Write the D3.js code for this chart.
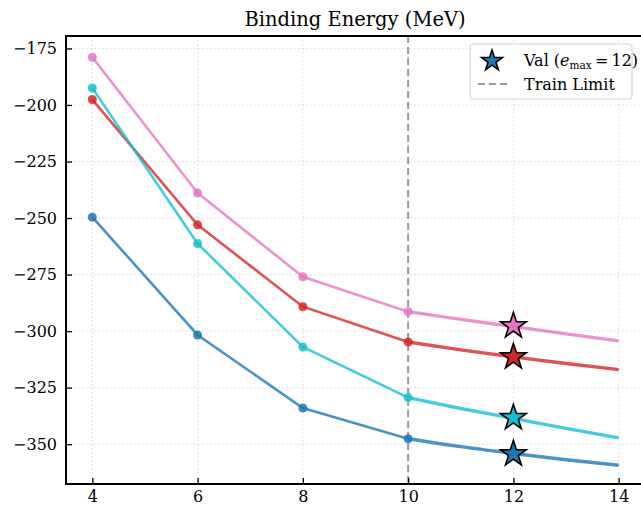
<!DOCTYPE html>
<html>
<head>
<meta charset="utf-8">
<script src="https://cdn.jsdelivr.net/npm/d3@7"></script>
<style>
  html, body { margin: 0; padding: 0; background: #fff; }
  svg { display: block; }
  text { font-family: "DejaVu Serif", serif; fill: #000; }
</style>
</head>
<body>
<svg id="chart" width="641" height="507"></svg>
<script>
// ---- Data ----
const xTicks = [4, 6, 8, 10, 12, 14];
const yTicks = [-350, -325, -300, -275, -250, -225, -200, -175];
const emaxTrain = [4, 6, 8, 10];
const emaxExtrap = [10, 11, 12, 13, 14];
const emaxVal = 12;
const trainLimit = 10;

const seriesNames = ["blue", "red", "cyan", "pink"];
const seriesColors = ["#1f77b4", "#d62728", "#17becf", "#e377c2"];

const trainBlue = [-249.6, -301.7, -334.0, -347.6];
const trainRed  = [-197.6, -253.0, -289.2, -304.8];
const trainCyan = [-192.5, -261.3, -307.0, -329.4];
const trainPink = [-178.9, -238.9, -276.0, -291.4];

const extrapBlue = [-347.6, -351.1, -354.1, -356.9, -359.3];
const extrapRed  = [-304.8, -308.3, -311.4, -314.3, -317.0];
const extrapCyan = [-329.4, -334.2, -338.6, -343.0, -347.2];
const extrapPink = [-291.4, -294.8, -298.0, -301.2, -304.3];

const valBlue = -354.3;
const valRed  = -311.4;
const valCyan = -338.3;
const valPink = -297.7;

const titleText = "Binding Energy (MeV)";
const legendLabels = ["Val (", "e", "max", "\u2009=\u200912)", "Train Limit"];

// ---- Build series ----
const trains = [trainBlue, trainRed, trainCyan, trainPink];
const extraps = [extrapBlue, extrapRed, extrapCyan, extrapPink];
const vals = [valBlue, valRed, valCyan, valPink];

// ---- Layout ----
const svg = d3.select("#chart");
const margin = { left: 66, top: 36, right: -4, bottom: 23 };
const W = 641, H = 507;
const x = d3.scaleLinear().domain([3.5, 14.5]).range([margin.left, W - margin.right]);
const y = d3.scaleLinear().domain([-367.6, -169.5]).range([H - margin.bottom, margin.top]);

const plot = svg.append("g");

svg.append("defs").append("clipPath").attr("id", "clip")
  .append("rect").attr("x", x.range()[0]).attr("y", y.range()[1])
  .attr("width", x.range()[1] - x.range()[0]).attr("height", y.range()[0] - y.range()[1]);

// grid
const grid = plot.append("g").attr("clip-path", "url(#clip)");
grid.selectAll(".gx").data(xTicks).join("line")
  .attr("x1", d => x(d)).attr("x2", d => x(d))
  .attr("y1", y.range()[1]).attr("y2", y.range()[0])
  .attr("stroke", "#d9d9d9").attr("stroke-width", 1).attr("stroke-dasharray", "1.5,2.5");
grid.selectAll(".gy").data(yTicks).join("line")
  .attr("x1", x.range()[0]).attr("x2", x.range()[1])
  .attr("y1", d => y(d)).attr("y2", d => y(d))
  .attr("stroke", "#d9d9d9").attr("stroke-width", 1).attr("stroke-dasharray", "1.5,2.5");

// train limit line
plot.append("line")
  .attr("x1", x(trainLimit)).attr("x2", x(trainLimit))
  .attr("y1", y.range()[1]).attr("y2", y.range()[0])
  .attr("stroke", "#9a9a9a").attr("stroke-width", 2).attr("stroke-dasharray", "7,4");

const data = plot.append("g").attr("clip-path", "url(#clip)");
const lineGen = d3.line().x(d => x(d[0])).y(d => y(d[1]));
const curveGen = d3.line().x(d => x(d[0])).y(d => y(d[1])).curve(d3.curveMonotoneX);

seriesNames.forEach((name, i) => {
  const col = seriesColors[i];
  const tr = emaxTrain.map((e, j) => [e, trains[i][j]]);
  const ex = emaxExtrap.map((e, j) => [e, extraps[i][j]]);
  data.append("path").attr("d", lineGen(tr)).attr("fill", "none")
    .attr("stroke", col).attr("stroke-opacity", 0.8).attr("stroke-width", 2.6);
  data.selectAll(".pt-" + name).data(tr).join("circle")
    .attr("cx", d => x(d[0])).attr("cy", d => y(d[1])).attr("r", 4.5)
    .attr("fill", col).attr("fill-opacity", 0.85);
  data.append("path").attr("d", curveGen(ex)).attr("fill", "none")
    .attr("stroke", col).attr("stroke-opacity", 0.8).attr("stroke-width", 3.4);
});

function starPath(cx, cy, R) {
  const r = R * 0.382;
  const pts = [];
  for (let k = 0; k < 10; k++) {
    const a = -Math.PI / 2 + k * Math.PI / 5;
    const rr = k % 2 === 0 ? R : r;
    pts.push([cx + rr * Math.cos(a), cy + rr * Math.sin(a)]);
  }
  return "M" + pts.map(p => p.join(",")).join("L") + "Z";
}

seriesNames.forEach((name, i) => {
  plot.append("path").attr("d", starPath(x(emaxVal), y(vals[i]), 13.5))
    .attr("fill", seriesColors[i]).attr("stroke", "#000").attr("stroke-width", 1.6)
    .attr("stroke-linejoin", "miter");
});

// axes
const xAxis = d3.axisBottom(x).tickValues(xTicks).tickSizeInner(-6).tickSizeOuter(0).tickPadding(7)
  .tickFormat(d3.format("d"));
const yAxis = d3.axisLeft(y).tickValues(yTicks).tickSizeInner(-6).tickSizeOuter(0).tickPadding(9)
  .tickFormat(d => d3.format("d")(d).replace("-", "\u2212"));

const gx = svg.append("g").attr("transform", `translate(0,${y.range()[0]})`).call(xAxis);
const gy = svg.append("g").attr("transform", `translate(${x.range()[0]},0)`).call(yAxis);
[gx, gy].forEach(g => {
  g.select(".domain").remove();
  g.selectAll(".tick line").attr("stroke", "#000").attr("stroke-width", 1.3);
  g.selectAll(".tick text").style("font-family", "DejaVu Serif, serif").style("font-size", "16px").attr("fill", "#000");
});

// spines
const [xl, xr] = x.range(), [yb, yt] = y.range();
svg.append("rect").attr("x", xl).attr("y", yt).attr("width", xr - xl).attr("height", yb - yt)
  .attr("fill", "none").attr("stroke", "#000").attr("stroke-width", 2);

// title
svg.append("text").attr("x", 355).attr("y", 26).attr("text-anchor", "middle")
  .style("font-size", "19.5px").text(titleText);

// legend
const lg = svg.append("g");
lg.append("rect").attr("x", 470).attr("y", 44).attr("width", 162).attr("height", 55).attr("rx", 3)
  .attr("fill", "#fff").attr("fill-opacity", 0.9).attr("stroke", "#d0d0d0").attr("stroke-width", 1);
lg.append("path").attr("d", starPath(492, 61, 11)).attr("fill", seriesColors[0])
  .attr("stroke", "#000").attr("stroke-width", 1.5);
const t1 = lg.append("text").attr("x", 524).attr("y", 66).style("font-size", "16px");
t1.append("tspan").text(legendLabels[0]);
t1.append("tspan").style("font-style", "italic").text(legendLabels[1]);
t1.append("tspan").attr("dy", 3).style("font-size", "10.5px").text(legendLabels[2]);
t1.append("tspan").attr("dy", -3).text(legendLabels[3]);
lg.append("line").attr("x1", 478).attr("x2", 508).attr("y1", 84).attr("y2", 84)
  .attr("stroke", "#9a9a9a").attr("stroke-width", 2).attr("stroke-dasharray", "7,4");
lg.append("text").attr("x", 524).attr("y", 90).style("font-size", "16px").text(legendLabels[4]);
</script>
</body>
</html>
